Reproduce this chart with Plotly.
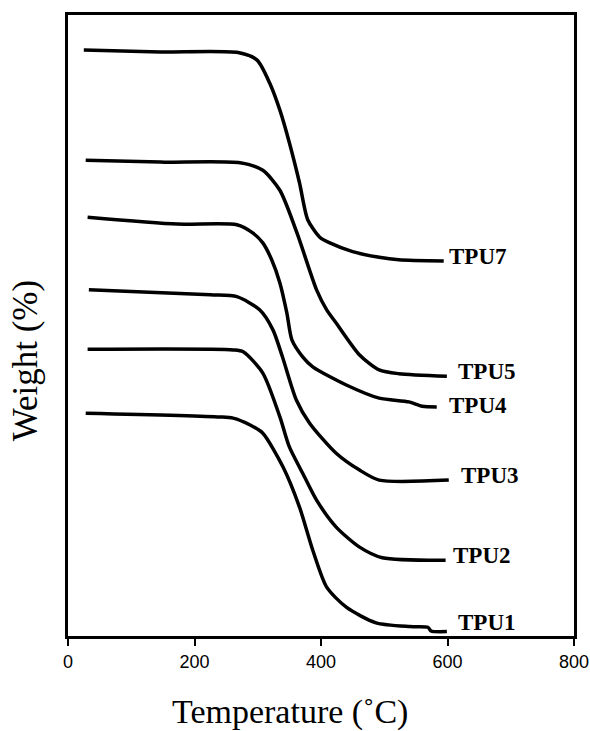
import plotly.graph_objects as go

# Temperature (°C) and weight (%, stacked/offset curves as drawn)
tpu7_t = [25, 146, 269, 299, 319, 335, 350, 366, 379, 398, 414, 450, 492, 523, 594]
tpu7_w = [94.4, 94.1, 94.0, 92.8, 89.1, 84.8, 79.6, 73.2, 67.3, 64.5, 63.6, 62.2, 61.3, 60.9, 60.7]

tpu5_t = [28, 146, 272, 308, 335, 362, 393, 409, 424, 461, 492, 523, 599]
tpu5_w = [76.8, 76.5, 76.4, 75.2, 72.0, 65.2, 56.1, 52.9, 50.8, 45.7, 43.3, 42.7, 42.3]

tpu4_t = [31, 173, 267, 292, 308, 322, 335, 346, 354, 371, 387, 440, 492, 539, 560, 583]
tpu4_w = [67.7, 66.6, 66.5, 65.2, 63.6, 60.9, 57.2, 52.4, 48.1, 45.4, 43.8, 40.9, 38.8, 38.2, 37.5, 37.4]

tpu3_t = [33, 225, 267, 303, 324, 339, 361, 382, 424, 461, 492, 602]
tpu3_w = [56.1, 55.3, 55.0, 52.9, 49.7, 45.4, 38.5, 34.8, 30.0, 27.3, 25.7, 25.7]

tpu2_t = [31, 261, 277, 308, 335, 350, 371, 393, 424, 461, 497, 597]
tpu2_w = [46.6, 46.5, 46.2, 42.8, 35.8, 31.0, 26.8, 22.5, 18.2, 15.0, 13.3, 12.9]

tpu1_t = [28, 240, 261, 288, 308, 340, 366, 387, 409, 440, 487, 540, 569, 574, 599]
tpu1_w = [36.4, 35.8, 35.6, 34.5, 33.2, 27.8, 21.4, 14.5, 8.6, 5.4, 2.9, 2.3, 2.2, 1.6, 1.5]

series_names = ["TPU7", "TPU5", "TPU4", "TPU3", "TPU2", "TPU1"]
label_t = [599, 613, 599, 618, 605, 613]
label_w = [61.5, 43.1, 37.7, 26.4, 13.7, 3.0]

x_ticks = [0, 200, 400, 600, 800]

series = [
    (tpu7_t, tpu7_w), (tpu5_t, tpu5_w), (tpu4_t, tpu4_w),
    (tpu3_t, tpu3_w), (tpu2_t, tpu2_w), (tpu1_t, tpu1_w),
]

fig = go.Figure()
for name, (t, w) in zip(series_names, series):
    fig.add_trace(go.Scatter(
        x=t, y=w, mode="lines", name=name,
        line=dict(color="black", width=3.5, shape="spline", smoothing=0.7),
        showlegend=False,
    ))

for name, t, w in zip(series_names, label_t, label_w):
    fig.add_annotation(
        x=t, y=w, xref="x", yref="y", text=name, showarrow=False,
        xanchor="left", yanchor="middle",
        font=dict(family="Liberation Serif", size=23, color="black", weight="bold"),
    )

# axis titles
fig.add_annotation(
    x=0.439, y=-0.1224, xref="paper", yref="paper", text="Temperature (˚C)",
    showarrow=False, xanchor="center", yanchor="middle",
    font=dict(family="Liberation Serif", size=34, color="black"),
)
fig.add_annotation(
    x=-0.085, y=0.444, xref="paper", yref="paper", text="Weight (%)",
    showarrow=False, xanchor="center", yanchor="middle", textangle=-90,
    font=dict(family="Liberation Serif", size=35, color="black"),
)

# small extension of the bottom axis line to the left of the frame
fig.add_shape(type="line", xref="x", yref="paper", x0=-18, x1=0, y0=0, y1=0,
              line=dict(color="black", width=3))

fig.update_layout(
    width=590, height=731,
    margin=dict(l=68, r=16, t=15, b=95, autoexpand=False),
    paper_bgcolor="white", plot_bgcolor="white",
    xaxis=dict(
        range=[0, 800], tickvals=x_ticks, ticktext=[str(v) for v in x_ticks],
        ticks="outside", ticklen=7, tickwidth=2, tickcolor="black",
        showline=True, linecolor="black", linewidth=3, mirror=True,
        showgrid=False, zeroline=False, ticklabeloverflow="allow",
        automargin=False,
        tickfont=dict(family="Liberation Sans", size=18, color="black"),
    ),
    yaxis=dict(
        range=[0.8, 100], showticklabels=False, ticks="",
        showline=True, linecolor="black", linewidth=3, mirror=True,
        showgrid=False, zeroline=False, automargin=False,
    ),
)

fig.write_html(
    "out.html",
    config={"displayModeBar": False},
    post_script="document.body.style.margin='0px';document.body.style.overflow='hidden';",
)
